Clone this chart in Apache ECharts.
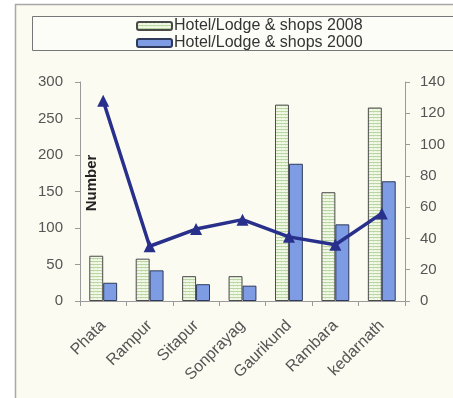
<!DOCTYPE html>
<html>
<head>
<meta charset="utf-8">
<script src="https://cdn.jsdelivr.net/npm/echarts@6/dist/echarts.min.js"></script>
<style>
  html, body { margin: 0; padding: 0; background: #ffffff; }
  #chart { width: 453px; height: 398px; }
</style>
</head>
<body>
<div id="chart"></div>
<script>
// Places along the route and counts of hotels/lodges & shops
const categories = ['Phata', 'Rampur', 'Sitapur', 'Sonprayag', 'Gaurikund', 'Rambara', 'kedarnath'];
const shops2008 = [62, 58, 34, 34, 269, 149, 265];
const shops2000 = [25, 42, 23, 21, 188, 105, 164];
const lineValues = [128, 35, 46, 52, 41, 36, 56];
const leftTicks = [0, 50, 100, 150, 200, 250, 300];
const rightTicks = [0, 20, 40, 60, 80, 100, 120, 140];

// Horizontal-striped fill for the 2008 bars
function stripePattern() {
  const c = document.createElement('canvas');
  c.width = 4; c.height = 3;
  const ctx = c.getContext('2d');
  ctx.fillStyle = '#f1f8e6';
  ctx.fillRect(0, 0, 4, 3);
  ctx.fillStyle = '#b9d6a2';
  ctx.fillRect(0, 0, 4, 1);
  ctx.fillStyle = '#d8ebc6';
  ctx.fillRect(1, 1, 1, 1);
  return c;
}

const chart = echarts.init(document.getElementById('chart'), null, { renderer: 'canvas' });
const font = 'Liberation Sans, Arial, sans-serif';
const stripe = { image: stripePattern(), repeat: 'repeat' };

chart.setOption({
  backgroundColor: '#fbfbf1',
  animation: false,
  textStyle: { fontFamily: font },
  graphic: [
    { type: 'rect', shape: { x: 15.5, y: 4.5, width: 460, height: 420 },
      style: { fill: 'none', stroke: '#a8a8a8', lineWidth: 1.5 }, z: -1 },
    { type: 'rect', shape: { x: 15, y: 0, width: 460, height: 4 }, style: { fill: '#ffffff' }, z: -2 },
    { type: 'rect', shape: { x: 0, y: 0, width: 15, height: 398 }, style: { fill: '#ffffff' }, z: -2 },
    { type: 'rect', shape: { x: 32.5, y: 16.5, width: 440, height: 34 },
      style: { fill: '#fdfdf8', stroke: '#777777', lineWidth: 1 }, z: 0 },
    { type: 'text', x: 92, y: 183, rotation: Math.PI / 2,
      style: { text: 'Number', font: 'bold 15px ' + font, fill: '#222222',
        textAlign: 'center', textVerticalAlign: 'middle' }, z: 5 }
  ],
  legend: {
    orient: 'vertical',
    left: 131,
    top: 13,
    itemWidth: 35,
    itemHeight: 8,
    itemGap: 1,
    textStyle: { fontSize: 16, lineHeight: 16, color: '#333333', fontFamily: font, padding: [0, 0, 0, -3] },
    data: ['Hotel/Lodge & shops 2008', 'Hotel/Lodge & shops 2000'],
    z: 5
  },
  grid: { left: 80, right: 48, top: 82, bottom: 97 },
  xAxis: {
    type: 'category',
    data: categories,
    axisLine: { lineStyle: { color: '#9a9a9a', width: 1 } },
    axisTick: { show: true, length: 5, lineStyle: { color: '#9a9a9a' } },
    axisLabel: { rotate: 45, fontSize: 16, color: '#555555', margin: 22, fontFamily: font }
  },
  yAxis: [
    {
      type: 'value', min: 0, max: 300, interval: 50,
      axisLine: { show: true, lineStyle: { color: '#9a9a9a' } },
      axisTick: { show: true, length: 5, lineStyle: { color: '#9a9a9a' } },
      axisLabel: { fontSize: 15, color: '#555555', margin: 17, fontFamily: font,
        formatter: v => leftTicks.includes(v) ? String(v) : '' },
      splitLine: { show: false }
    },
    {
      type: 'value', min: 0, max: 140, interval: 20,
      axisLine: { show: true, lineStyle: { color: '#9a9a9a' } },
      axisTick: { show: true, length: 5, lineStyle: { color: '#9a9a9a' } },
      axisLabel: { fontSize: 15, color: '#555555', margin: 15, fontFamily: font,
        formatter: v => rightTicks.includes(v) ? String(v) : '' },
      splitLine: { show: false }
    }
  ],
  series: [
    {
      name: 'Hotel/Lodge & shops 2008',
      type: 'bar',
      data: shops2008,
      barGap: '0%',
      barCategoryGap: '40%',
      itemStyle: { color: stripe, borderColor: '#4a4a4a', borderWidth: 1 }
    },
    {
      name: 'Hotel/Lodge & shops 2000',
      type: 'bar',
      data: shops2000,
      itemStyle: { color: '#7d9ce3', borderColor: '#2f3a5a', borderWidth: 1 }
    },
    {
      name: 'line',
      type: 'line',
      yAxisIndex: 1,
      data: lineValues,
      symbol: 'triangle',
      symbolSize: 12,
      lineStyle: { color: '#29308c', width: 3.5 },
      itemStyle: { color: '#29308c' },
      z: 10
    }
  ]
});
</script>
</body>
</html>
